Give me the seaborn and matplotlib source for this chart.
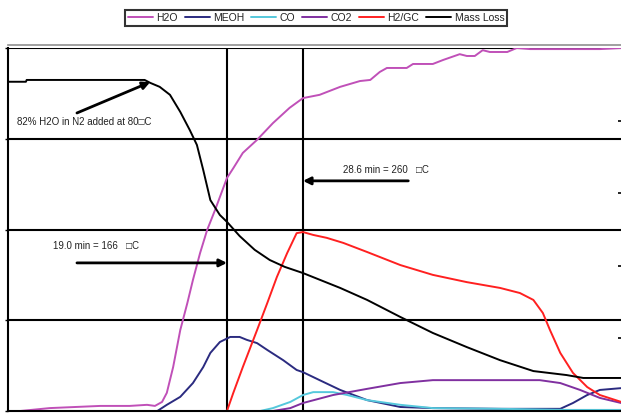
import numpy as np
import pandas as pd
import matplotlib
matplotlib.use("Agg")
import matplotlib.pyplot as plt
import seaborn as sns

# ---- data (time in minutes, signal in % of full scale) ----
series_names = ["H2O", "MEOH", "CO", "CO2", "H2/GC", "Mass Loss"]

h2o_t = [-7.1, -3.4, 3.0, 6.7, 8.9, 9.9, 10.8, 11.4, 12.2, 13.1, 14.0, 14.7, 15.6, 16.5, 17.5,
         19.0, 19.8, 21.0, 22.8, 24.8, 26.9, 28.6, 30.7, 33.3, 35.8, 37.1, 38.3, 39.2, 41.7,
         42.5, 45.0, 46.3, 48.4, 49.3, 50.3, 51.3, 52.2, 54.4, 55.6, 57.3, 66.1, 68.8]
h2o_v = [0.0, 0.8, 1.4, 1.4, 1.7, 1.4, 2.5, 5.0, 12.1, 22.3, 29.8, 36.1, 43.5, 49.9, 55.4,
         64.2, 66.9, 71.1, 74.7, 79.3, 83.5, 86.2, 87.1, 89.3, 90.9, 91.2, 93.4, 94.5, 94.5,
         95.6, 95.6, 96.7, 98.3, 97.8, 97.8, 99.4, 98.9, 98.9, 100.0, 99.7, 99.7, 100.0]

meoh_t = [-3.4, 10.2, 11.4, 13.1, 14.7, 16.0, 16.9, 18.1, 19.4, 20.6, 21.5, 22.8, 24.1, 26.1,
          27.8, 28.6, 30.7, 33.3, 36.7, 40.9, 45.0, 53.5, 61.1, 62.7, 64.5, 66.1, 68.8]
meoh_v = [0.0, 0.0, 1.7, 3.9, 7.7, 12.1, 16.0, 19.0, 20.4, 20.4, 19.6, 18.7, 16.8, 14.0,
          11.3, 10.7, 8.5, 5.8, 3.0, 1.1, 0.8, 0.6, 0.6, 2.2, 4.4, 5.8, 6.3]

co_t = [23.2, 24.8, 27.0, 28.6, 29.9, 32.4, 34.2, 36.7, 40.9, 45.0, 53.5, 61.9, 68.8]
co_v = [0.0, 0.8, 2.5, 4.4, 5.2, 5.2, 4.4, 3.0, 1.7, 0.8, 0.6, 0.3, 0.3]

co2_t = [21.5, 24.8, 27.0, 28.6, 32.4, 36.7, 40.9, 45.0, 49.3, 53.5, 56.0, 58.5, 61.1, 63.6, 66.1, 68.8]
co2_v = [0.0, 0.0, 0.8, 2.2, 4.4, 6.1, 7.7, 8.5, 8.5, 8.5, 8.5, 8.5, 7.7, 5.8, 3.6, 2.2]

h2gc_t = [19.0, 19.8, 21.0, 22.8, 24.1, 25.3, 26.6, 27.8, 28.6, 29.9, 31.6, 33.7, 36.7, 40.9,
          45.0, 49.3, 53.5, 56.0, 57.7, 58.9, 59.8, 61.1, 62.7, 64.5, 66.1, 68.8]
h2gc_v = [0.0, 5.0, 12.1, 22.3, 29.8, 36.9, 43.5, 49.0, 49.3, 48.5, 47.7, 46.3, 43.8, 40.2,
          37.5, 35.5, 33.9, 32.5, 30.6, 27.0, 22.3, 16.0, 10.5, 6.6, 4.4, 2.5]

mass_t = [-8.7, -6.4, -6.3, 8.6, 9.3, 10.5, 11.8, 13.1, 14.3, 15.2, 16.0, 16.9, 18.1, 19.0,
          20.6, 22.5, 24.4, 26.3, 28.6, 33.3, 36.7, 40.9, 45.0, 49.3, 53.5, 57.7, 61.9, 64.0, 68.8]
mass_v = [90.7, 90.7, 91.2, 91.2, 90.4, 89.3, 87.1, 82.4, 77.4, 73.3, 66.4, 58.1, 54.0, 52.1,
          48.2, 44.4, 41.6, 39.7, 38.0, 33.9, 30.6, 25.9, 21.5, 17.6, 14.0, 11.0, 9.9, 9.1, 9.1]

marker_times = [19.0, 28.6]
annotation_texts = ["82% H2O in N2 added at 80\u25a1C",
                    "19.0 min = 166   \u25a1C",
                    "28.6 min = 260   \u25a1C"]

colors = {"H2O": "#c050b8", "MEOH": "#2b2b80", "CO": "#55c8dc",
          "CO2": "#8030a0", "H2/GC": "#ff2020", "Mass Loss": "#000000"}

frames = []
for name, t, v in zip(series_names,
                      [h2o_t, meoh_t, co_t, co2_t, h2gc_t, mass_t],
                      [h2o_v, meoh_v, co_v, co2_v, h2gc_v, mass_v]):
    frames.append(pd.DataFrame({"time": t, "value": v, "series": name}))
df = pd.concat(frames, ignore_index=True)

sns.set_theme(style="white")
plt.rcParams["font.family"] = ["Liberation Sans", "DejaVu Sans"]

fig = plt.figure(figsize=(6.21, 4.13), dpi=100)
ax = fig.add_axes([8/621, 2/413, 613/621, 363/413])

sns.lineplot(data=df, x="time", y="value", hue="series", hue_order=series_names,
             palette=colors, sort=False, estimator=None, linewidth=1.4, ax=ax, legend=False)

ax.set_xlim(-8.66, 68.77)
ax.set_ylim(0, 100)
ax.set_xticks([])
ax.set_yticks([0, 25, 50, 75, 100])
ax.set_yticklabels([])
ax.tick_params(axis="y", direction="out", length=2.5, width=1, color="black", left=True)
ax.set_xlabel("")
ax.set_ylabel("")
for y in [25, 50, 75, 100]:
    ax.axhline(y, color="black", lw=1.5, zorder=0.5)
for xt in marker_times:
    ax.axvline(xt, color="black", lw=1.5, zorder=0.5)

ax.spines["left"].set_color("black")
ax.spines["left"].set_linewidth(1.5)
ax.spines["bottom"].set_color("black")
ax.spines["bottom"].set_linewidth(1.5)
ax.spines["right"].set_visible(False)
ax.spines["top"].set_color("#909090")
ax.spines["top"].set_linewidth(1.2)
ax.spines["top"].set_position(("outward", 2.5))

ax2 = ax.twinx()
ax2.set_ylim(0, 100)
ax2.set_yticks([20, 40, 60, 80])
ax2.set_yticklabels([])
ax2.tick_params(axis="y", direction="in", length=2, width=1.2, color="black", right=True)
for s in ax2.spines.values():
    s.set_visible(False)

arrow = dict(arrowstyle="-|>", lw=2, color="black", mutation_scale=11, shrinkA=0, shrinkB=0)
ax.annotate("", xy=(9.3, 90.6), xytext=(0.05, 82.1), arrowprops=arrow)
ax.text(-7.5, 79.5, annotation_texts[0], fontsize=7, va="center", ha="left", color="#222222")
ax.annotate("", xy=(19.0, 40.8), xytext=(0.05, 40.8), arrowprops=arrow)
ax.text(-3.0, 45.5, annotation_texts[1], fontsize=7, va="center", ha="left", color="#222222")
ax.annotate("", xy=(28.6, 63.4), xytext=(41.9, 63.4), arrowprops=arrow)
ax.text(33.7, 66.4, annotation_texts[2], fontsize=7, va="center", ha="left", color="#222222")

handles = [plt.Line2D([], [], color=colors[n], lw=1.4) for n in series_names]
leg = fig.legend(handles, series_names, loc="center", bbox_to_anchor=(316/621, 1 - 18/413),
                 ncol=6, fontsize=7.5, frameon=True, fancybox=False, handlelength=2.4,
                 handletextpad=0.3, columnspacing=0.7, borderpad=0.3, borderaxespad=0)
leg.get_frame().set_edgecolor("black")
leg.get_frame().set_linewidth(1.5)
for t in leg.get_texts():
    t.set_color("#222222")

fig.savefig("out.png", dpi=100)
